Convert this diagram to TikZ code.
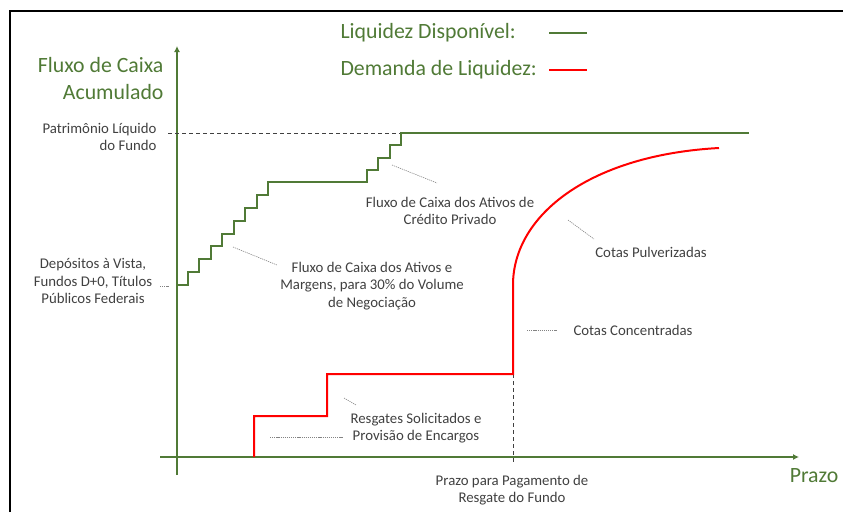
\documentclass[tikz,border=0pt]{standalone}
\usepackage{fontspec}
\setmainfont{Carlito}
\usetikzlibrary{arrows.meta}
\definecolor{liqgreen}{HTML}{507A36}
\definecolor{labelgray}{HTML}{404040}

\begin{document}
\begin{tikzpicture}[x=1pt, y=-1pt,
	axis/.style={liqgreen, line width=2.2pt},
	avail/.style={liqgreen, line width=2pt},
	demand/.style={red, line width=2pt},
	leader/.style={labelgray!65, line width=0.6pt, dash pattern=on 1.2pt off 0.9pt},
	guide/.style={labelgray, line width=1pt, dash pattern=on 4pt off 3pt},
	small/.style={labelgray, align=center, font=\fontsize{14.8}{17.6}\selectfont},
	big/.style={liqgreen, font=\fontsize{21.8}{27}\selectfont}]

	\useasboundingbox (0,0) rectangle (843,512);
	\draw[line width=1.3pt] (10,512) -- (10,11) -- (843,11);

	% legend
	\node[big, anchor=west] (legA) at (337,33) {Liquidez Disponível:};
	\node[big, anchor=west] (legD) at (337,70) {Demanda de Liquidez:};
	\coordinate (legA1) at (549,33);
	\coordinate (legA2) at (587,33);
	\coordinate (legD1) at (549,70);
	\coordinate (legD2) at (587,70);
	\draw[avail] (legA1) -- (legA2);
	\draw[demand] (legD1) -- (legD2);

	% axes
	\coordinate (ybot) at (177,475);
	\coordinate (ytop) at (177,46);
	\coordinate (xleft) at (160,457);
	\coordinate (xright) at (799,457);
	\draw[axis, -{Latex[length=6pt,width=6pt]}] (ybot) -- (ytop);
	\draw[axis, -{Latex[length=6pt,width=6pt]}] (xleft) -- (xright);
	\node[big, align=right, anchor=east] (ylab) at (167,79) {Fluxo de Caixa\\Acumulado};
	\node[big] (prazo) at (814,476) {Prazo};

	% liquidez disponivel
	\coordinate (plstart) at (168,133);
	\coordinate (plend) at (401,133);
	\draw[guide] (plstart) -- (plend);
	\draw[avail] (177,285)
		\foreach \i in {0,...,7} { -| ({188+11.43*\i},{285-12.875*(\i+1)}) }
		\foreach \j in {0,...,3} { -| ({367+11.33*\j},{182-12.25*(\j+1)}) }
		-- (749,133);

	% demanda de liquidez
	\coordinate (payday) at (513,374);
	\coordinate (paybot) at (513,464);
	\draw[guide] (payday) -- (paybot);
	\draw[demand] (254,457) |- (327,416) |- (payday) -- (513,285)
		.. controls (513,215) and (590,155) .. (719,148);

	% labels
	\node[small, align=right, anchor=east] (pl) at (160,137) {Patrimônio Líquido\\do Fundo};
	\node[small] (dep) at (93,281) {Depósitos à Vista,\\Fundos D+0, Títulos\\Públicos Federais};
	\node[small] (fca) at (372,286) {Fluxo de Caixa dos Ativos e\\Margens, para 30\% do Volume\\de Negociação};
	\node[small] (fcp) at (450,211) {Fluxo de Caixa dos Ativos de\\Crédito Privado};
	\node[small] (pulv) at (651,252) {Cotas Pulverizadas};
	\node[small] (conc) at (633,330) {Cotas Concentradas};
	\node[small] (resg) at (416,428) {Resgates Solicitados e\\Provisão de Encargos};
	\node[small] (pagto) at (512,490) {Prazo para Pagamento de\\Resgate do Fundo};

	% leaders
	\coordinate (dep1) at (160,286);
	\coordinate (dep2) at (169,286);
	\coordinate (fca1) at (233,247);
	\coordinate (fca2) at (277,265);
	\coordinate (fcp1) at (392,165);
	\coordinate (fcp2) at (437,183);
	\coordinate (pulv1) at (568,220);
	\coordinate (pulv2) at (594,239);
	\coordinate (conc1) at (527,330);
	\coordinate (conc2) at (557,330);
	\coordinate (resg1) at (344,398);
	\coordinate (resg2) at (356,405);
	\coordinate (resg3) at (270,437);
	\coordinate (resg4) at (343,437);
	\draw[leader] (dep1) -- (dep2);
	\draw[leader] (fca1) -- (fca2);
	\draw[leader] (fcp1) -- (fcp2);
	\draw[leader] (pulv1) -- (pulv2);
	\draw[leader] (conc1) -- (conc2);
	\draw[leader] (resg1) -- (resg2);
	\draw[leader] (resg3) -- (resg4);
\end{tikzpicture}
\end{document}
